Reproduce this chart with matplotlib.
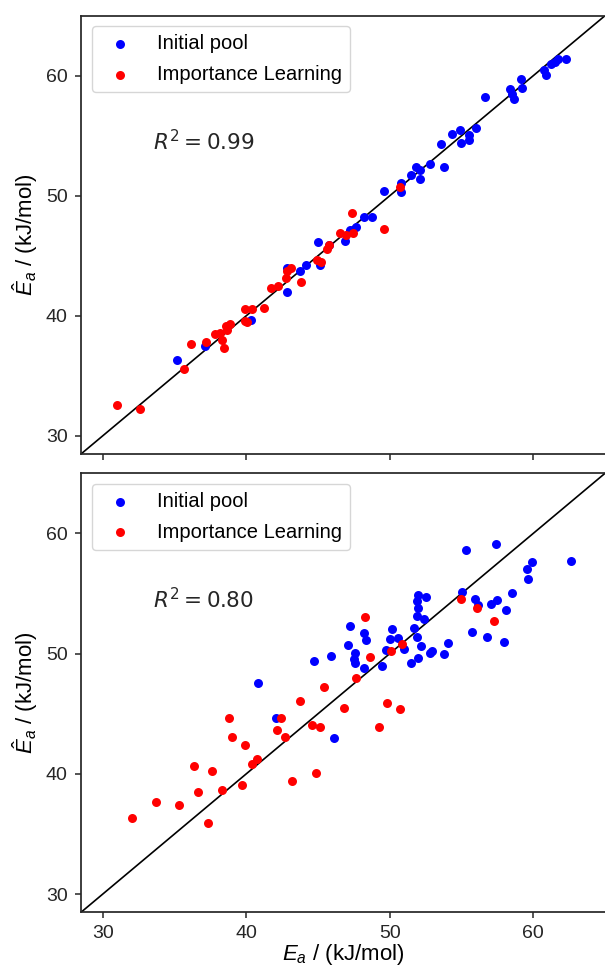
import numpy as np
import matplotlib
matplotlib.use("Agg")
import matplotlib.pyplot as plt

plt.rcParams["font.family"] = ["Liberation Sans", "DejaVu Sans"]
plt.rcParams["mathtext.fontset"] = "custom"
plt.rcParams["mathtext.rm"] = "Liberation Sans"
plt.rcParams["mathtext.it"] = "Liberation Sans:italic"
plt.rcParams["axes.edgecolor"] = "0.15"
plt.rcParams["axes.linewidth"] = 1.25
plt.rcParams["xtick.color"] = "0.15"
plt.rcParams["ytick.color"] = "0.15"

# top panel: training fit
top_pool_x = [35.17, 37.09, 40.35, 42.87, 42.87, 43.73, 44.15, 45.13, 45.01, 45.78,
              46.90, 47.25, 47.65, 48.18, 48.76, 49.63, 50.79, 50.79, 51.49, 51.84,
              52.14, 52.14, 52.82, 53.75, 53.54, 54.34, 54.92, 54.94, 55.52, 55.52,
              56.04, 56.62, 58.37, 58.49, 58.65, 59.18, 59.25, 60.75, 60.86, 61.24,
              61.52, 61.70, 62.28]
top_pool_y = [36.31, 37.49, 39.64, 41.96, 43.97, 43.72, 44.25, 44.19, 46.15, 45.87,
              46.20, 47.18, 47.40, 48.24, 48.24, 50.39, 51.03, 50.34, 51.73, 52.43,
              52.15, 51.37, 52.65, 52.43, 54.33, 55.17, 55.50, 54.39, 55.08, 54.66,
              55.64, 58.21, 58.91, 58.44, 58.07, 59.75, 58.99, 60.47, 60.03, 61.01,
              61.17, 61.42, 61.37]
top_il_x = [30.98, 32.56, 35.64, 36.18, 37.20, 37.79, 38.16, 38.28, 38.48, 38.60,
            38.83, 38.67, 39.91, 40.37, 39.91, 40.07, 41.24, 41.70, 42.24, 42.75,
            42.87, 43.15, 43.80, 44.90, 45.20, 45.62, 45.78, 46.55, 46.95, 47.46,
            47.34, 49.58, 50.68]
top_il_y = [32.60, 32.23, 35.53, 37.63, 37.82, 38.52, 38.60, 37.96, 37.29, 39.16,
            39.30, 38.80, 40.56, 40.56, 39.58, 39.44, 40.61, 42.29, 42.51, 43.13,
            43.69, 43.97, 42.85, 44.66, 44.47, 45.59, 45.92, 46.90, 46.70, 46.90,
            48.52, 47.26, 50.70]

# bottom panel: test fit
bot_pool_x = [40.84, 42.05, 44.69, 45.90, 46.08, 47.25, 47.11, 47.58, 47.53, 47.58,
              48.18, 48.34, 48.18, 49.44, 49.74, 50.05, 50.14, 50.56, 50.98, 51.49,
              51.66, 51.89, 52.00, 52.19, 51.89, 51.96, 51.91, 51.96, 52.54, 52.42,
              52.77, 52.96, 53.78, 54.06, 55.06, 55.29, 55.73, 55.92, 56.15, 56.81,
              57.02, 57.39, 57.48, 57.97, 58.07, 58.53, 59.58, 59.65, 59.88, 62.63]
bot_pool_y = [47.57, 44.66, 49.39, 49.78, 42.96, 52.29, 50.73, 50.03, 49.55, 49.22,
              51.73, 51.17, 48.83, 48.94, 50.31, 51.23, 52.07, 51.31, 50.39, 49.25,
              52.15, 51.37, 49.64, 50.61, 53.13, 53.80, 54.36, 54.86, 54.72, 52.91,
              50.06, 50.25, 49.94, 50.89, 55.14, 58.63, 51.76, 54.53, 54.02, 51.40,
              54.16, 59.11, 54.44, 50.95, 53.60, 55.03, 57.04, 56.20, 57.60, 57.71]
bot_il_x = [32.03, 33.73, 35.29, 36.34, 36.62, 37.32, 37.58, 38.32, 38.76, 38.97,
            39.67, 39.88, 40.42, 40.72, 42.17, 42.40, 42.68, 43.17, 43.73, 44.57,
            44.85, 45.13, 45.45, 46.83, 47.65, 48.30, 48.62, 49.23, 49.81, 50.09,
            50.68, 50.84, 54.94, 56.06, 57.27]
bot_il_y = [36.34, 37.68, 37.43, 40.67, 38.52, 35.87, 40.25, 38.69, 44.61, 43.10,
            39.11, 42.37, 40.81, 41.26, 43.66, 44.66, 43.04, 39.44, 46.09, 44.08,
            40.03, 43.91, 47.21, 45.47, 47.96, 53.07, 49.72, 43.91, 45.89, 50.25,
            45.36, 50.78, 54.55, 53.80, 52.74]

r2_labels = [r"$R^2 = 0.99$", r"$R^2 = 0.80$"]
ticks = [30, 40, 50, 60]
lims = (28.48, 65.0)

fig = plt.figure(figsize=(6.05, 9.67), dpi=100)
ax1 = fig.add_axes([81 / 605, 1 - 454 / 967, 524 / 605, 438.3 / 967])
ax2 = fig.add_axes([81 / 605, 1 - 912.3 / 967, 524 / 605, 439 / 967])

panels = [(ax1, top_pool_x, top_pool_y, top_il_x, top_il_y, r2_labels[0]),
          (ax2, bot_pool_x, bot_pool_y, bot_il_x, bot_il_y, r2_labels[1])]

for ax, px, py, ix, iy, r2 in panels:
    ax.scatter(px, py, s=42, c="blue", linewidths=0, label="Initial pool", zorder=3)
    ax.scatter(ix, iy, s=42, c="red", linewidths=0, label="Importance Learning", zorder=3)
    ax.plot([20, 70], [20, 70], color="black", lw=1.2, zorder=2)
    ax.set_xlim(lims)
    ax.set_ylim(lims)
    ax.set_xticks(ticks)
    ax.set_yticks(ticks)
    ax.tick_params(direction="out", length=4.5, width=1.1, labelsize=14, pad=5)
    ax.spines["right"].set_visible(False)
    ax.set_ylabel(r"$\hat{E}_a$ / (kJ/mol)", fontsize=16, labelpad=4)
    ax.text(0.138, 0.712, r2, transform=ax.transAxes, fontsize=15.5,
            va="center", ha="left", color="0.15",
            fontfamily="DejaVu Sans", math_fontfamily="dejavusans")
    leg = ax.legend(loc="upper left", fontsize=14.5, handlelength=2, handletextpad=0.85,
                    borderaxespad=0.53, scatterpoints=1, labelspacing=0.57,
                    framealpha=0.8, edgecolor="0.8", borderpad=0.4)

ax1.tick_params(labelbottom=False)
ax2.set_xlabel(r"$E_a$ / (kJ/mol)", fontsize=16, labelpad=0)

fig.savefig("out.png", dpi=100)
plt.close()
